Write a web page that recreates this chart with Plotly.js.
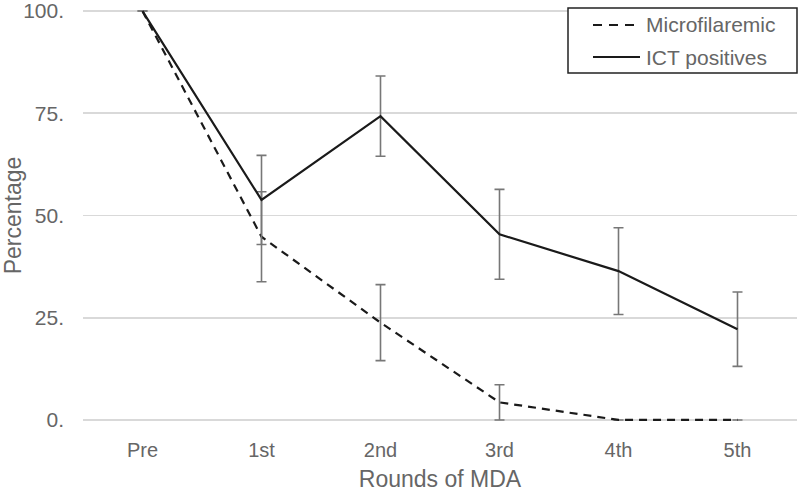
<!DOCTYPE html>
<html><head><meta charset="utf-8">
<script src="https://cdn.plot.ly/plotly-3.0.1.min.js"></script>
<style>html,body{margin:0;padding:0;background:#fff}#chart{width:800px;height:493px}</style>
</head><body><div id="chart"></div>
<script>
const rounds = ["Pre","1st","2nd","3rd","4th","5th"];
const microfilaremic = [100, 44.8, 23.8, 4.3, 0, 0];
const microfilaremicErr = [0, 11, 9.3, 4.3, 0, 0];
const ictPositives = [100, 53.8, 74.3, 45.4, 36.4, 22.2];
const ictErr = [0, 10.9, 9.8, 11, 10.6, 9.1];
const seriesNames = ["Microfilaremic", "ICT positives"];
const yTickVals = [0, 25, 50, 75, 100];
const yTickText = ["0.", "25.", "50.", "75.", "100."];

const W = 800, H = 493, M = {l:83, r:3, t:9, b:71};
const px = x => (x - M.l) / (W - M.l - M.r);
const py = y => (H - M.b - y) / (H - M.t - M.b);

const errStyle = (arr) => ({type:'data', array: arr, visible:true, color:'#777', thickness:1.6, width:5});
const dashPat = '8px,6px';
const traces = [
  {x: rounds, y: microfilaremic, name:seriesNames[0], mode:'lines', type:'scatter',
   line:{color:'#1a1a1a', width:2.2, dash:dashPat}, error_y: errStyle(microfilaremicErr), cliponaxis:false},
  {x: rounds, y: ictPositives, name:seriesNames[1], mode:'lines', type:'scatter',
   line:{color:'#1a1a1a', width:2.2}, error_y: errStyle(ictErr), cliponaxis:false}
];

// custom legend (box, line samples, labels)
const shapes = [
  {type:'rect', xref:'paper', yref:'paper', x0:px(568), x1:px(797), y0:py(8), y1:py(73),
   line:{color:'#222', width:1.5}, fillcolor:'#fff', layer:'above'},
  {type:'line', xref:'paper', yref:'paper', x0:px(593), x1:px(640), y0:py(25), y1:py(25),
   line:{color:'#1a1a1a', width:2.2, dash:'9px,7px'}, layer:'above'},
  {type:'line', xref:'paper', yref:'paper', x0:px(593), x1:px(640), y0:py(57), y1:py(57),
   line:{color:'#1a1a1a', width:2.2}, layer:'above'}
];
const annotations = seriesNames.map((n, i) => ({
  text:n, xref:'paper', yref:'paper', x:px(644), y:py(i === 0 ? 25 : 57), xanchor:'left', yanchor:'middle',
  showarrow:false, font:{size:21, color:'#666'}
}));

const layout = {
  width:W, height:H,
  margin:{l:M.l, r:M.r, t:M.t, b:M.b, autoexpand:false},
  paper_bgcolor:'#fff', plot_bgcolor:'#fff',
  font:{family:'Liberation Sans, Arial, sans-serif', color:'#666', size:20},
  showlegend:false,
  shapes, annotations,
  xaxis:{type:'category', range:[-0.5,5.5], showgrid:false, zeroline:false, showline:false, automargin:false,
    ticks:'', tickfont:{size:20, color:'#666'}, ticklabelstandoff:14,
    title:{text:'Rounds of MDA', font:{size:23, color:'#666'}, standoff:10}},
  yaxis:{range:[-0.5,100.5], tickvals:yTickVals, ticktext:yTickText, showgrid:true, gridcolor:'#d9d9d9', gridwidth:1.8,
    zeroline:false, showline:false, automargin:false, ticks:'', tickfont:{size:21, color:'#666'}, ticklabelstandoff:18,
    ticklabeloverflow:'allow',
    title:{text:'Percentage', font:{size:23, color:'#666'}, standoff:0}}
};
Plotly.newPlot('chart', traces, layout, {displayModeBar:false, staticPlot:true});
</script></body></html>
